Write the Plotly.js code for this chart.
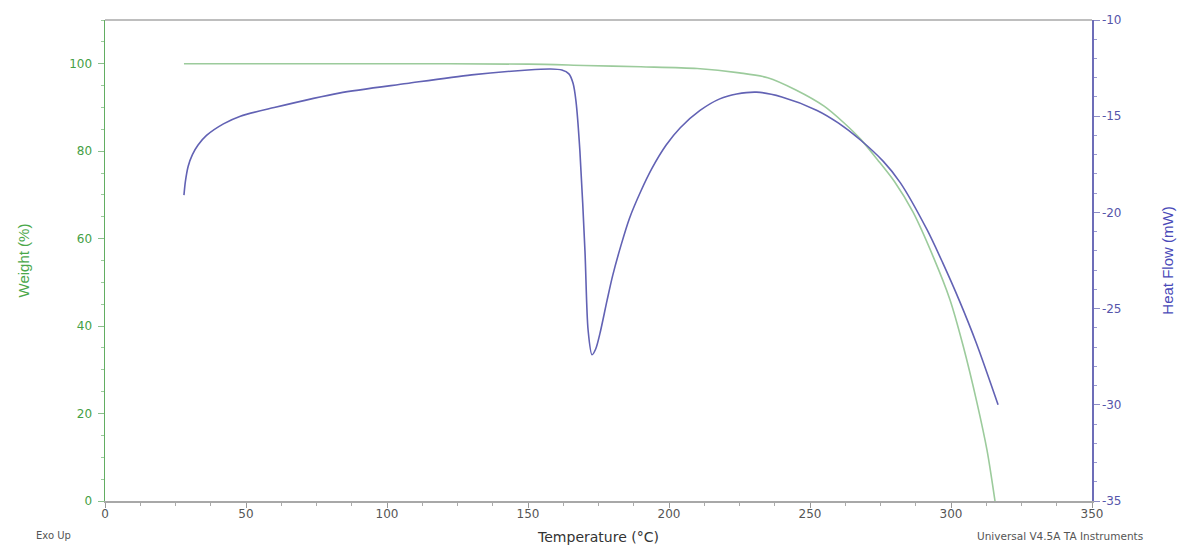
<!DOCTYPE html>
<html>
<head>
<meta charset="utf-8">
<script src="https://cdn.plot.ly/plotly-3.0.1.min.js"></script>
<style>html,body{margin:0;padding:0;background:#fff;}#chart{width:1196px;height:545px;}</style>
</head>
<body>
<div id="chart"></div>
<script>
// Weight (%) vs Temperature (°C)
const weightTemp = [28, 100, 150, 170, 190, 210, 225, 235, 245, 255, 262, 268, 274, 280, 286.5, 293.6, 299.6, 304.3, 309.2, 312.8, 315.6];
const weightVals = [100, 100, 99.9, 99.6, 99.3, 98.9, 97.9, 96.8, 94.0, 90.3, 86.5, 82.7, 78.0, 73.0, 66.1, 56.0, 46.1, 35.5, 22.5, 11.5, 0];

// Heat Flow (mW) vs Temperature (°C)
const heatTemp = [28, 28.5, 29.5, 31, 33, 36, 42, 48, 60, 83, 107, 130, 150, 158, 162, 164.5, 166, 167, 168.4, 170.2, 171.3, 172.7, 174, 175.5, 178, 180, 183, 186, 190, 194, 199, 204, 211, 218, 224, 231, 240, 252.5, 260, 268, 276, 282, 291.5, 297, 303, 309, 316.7];
const heatVals = [-19.1, -18.4, -17.6, -17.0, -16.5, -16.0, -15.4, -15.0, -14.55, -13.8, -13.3, -12.85, -12.6, -12.55, -12.6, -12.8, -13.3, -14.2, -16.8, -22, -26.1, -27.4, -27.1, -26.3, -24.6, -23.3, -21.7, -20.3, -18.9, -17.7, -16.5, -15.6, -14.7, -14.1, -13.85, -13.75, -14.0, -14.7, -15.35, -16.25, -17.35, -18.45, -20.9, -22.6, -24.6, -26.8, -30.0];

const xTicks = [0, 50, 100, 150, 200, 250, 300, 350];
const yTicks = [0, 20, 40, 60, 80, 100];
const y2Ticks = [-35, -30, -25, -20, -15, -10];

const green = '#45a045';
const blue = '#5555aa';
const font = 'DejaVu Sans, Verdana, sans-serif';
const narrow = 'Liberation Sans Narrow, Liberation Sans, Arial, sans-serif';

const traces = [
  {x: weightTemp, y: weightVals, type: 'scatter', mode: 'lines', yaxis: 'y',
   line: {color: '#9ccb9c', width: 1.6, shape: 'spline', smoothing: 0.8}, hoverinfo: 'none'},
  {x: heatTemp, y: heatVals, type: 'scatter', mode: 'lines', yaxis: 'y2',
   line: {color: '#6262b4', width: 1.6, shape: 'spline', smoothing: 0.8}, hoverinfo: 'none'}
];

const layout = {
  width: 1196, height: 545,
  margin: {l: 105, r: 104, t: 20, b: 44},
  paper_bgcolor: '#ffffff', plot_bgcolor: '#ffffff',
  showlegend: false,
  font: {family: font, size: 12, color: '#444'},
  xaxis: {
    range: [0, 350], tickvals: xTicks, ticktext: xTicks.map(String),
    showgrid: false, zeroline: false, showline: true, linecolor: '#a8a8a8', linewidth: 1.5,
    ticks: 'outside', ticklen: 5, tickcolor: '#999', tickwidth: 1,
    ticklabelstandoff: -4,
    tickfont: {family: font, size: 12, color: '#555'},
    minor: {dtick: 12.5, tick0: 0, ticks: 'outside', ticklen: 3, tickcolor: '#aaa', showgrid: false},
    title: {text: 'Temperature (°C)', font: {family: font, size: 14, color: '#333'}, standoff: 12}
  },
  yaxis: {
    range: [0, 110], tickvals: yTicks, ticktext: yTicks.map(String),
    showgrid: false, zeroline: false, showline: true, linecolor: '#62ad62', linewidth: 1.5,
    ticks: 'outside', ticklen: 6, tickcolor: '#8bbf8b', tickwidth: 1,
    ticklabelstandoff: 3,
    tickfont: {family: font, size: 12, color: green},
    minor: {dtick: 5, tick0: 0, ticks: 'outside', ticklen: 3, tickcolor: '#9ccb9c', showgrid: false},
    title: {text: 'Weight (%)', font: {family: narrow, size: 15, color: '#4aa84a'}, standoff: 36}
  },
  yaxis2: {
    range: [-35, -10], tickvals: y2Ticks, ticktext: y2Ticks.map(String),
    overlaying: 'y', side: 'right',
    showgrid: false, zeroline: false, showline: true, linecolor: '#6d6db8', linewidth: 1.5,
    ticks: 'outside', ticklen: 6, tickcolor: '#8d8dc6', tickwidth: 1,
    tickfont: {family: font, size: 12, color: blue},
    minor: {dtick: 1, tick0: -35, ticks: 'outside', ticklen: 3, tickcolor: '#9a9ad0', showgrid: false},
    title: {text: 'Heat Flow (mW)', font: {family: narrow, size: 15, color: '#4a4ab8'}, standoff: 42}
  },
  shapes: [
    {type: 'line', xref: 'paper', yref: 'paper', x0: 0, x1: 1, y0: 1, y1: 1,
     line: {color: '#a8a8a8', width: 1.5}}
  ],
  annotations: [
    {text: 'Exo Up', xref: 'paper', yref: 'paper', x: -0.072, y: -0.056, xanchor: 'left', yanchor: 'top',
     showarrow: false, font: {family: font, size: 10, color: '#555'}},
    {text: 'Universal V4.5A TA Instruments', xref: 'paper', yref: 'paper', x: 0.881, y: -0.056, xanchor: 'left', yanchor: 'top',
     showarrow: false, font: {family: font, size: 10.5, color: '#555'}}
  ]
};

Plotly.newPlot('chart', traces, layout, {displayModeBar: false, staticPlot: true});
</script>
</body>
</html>
